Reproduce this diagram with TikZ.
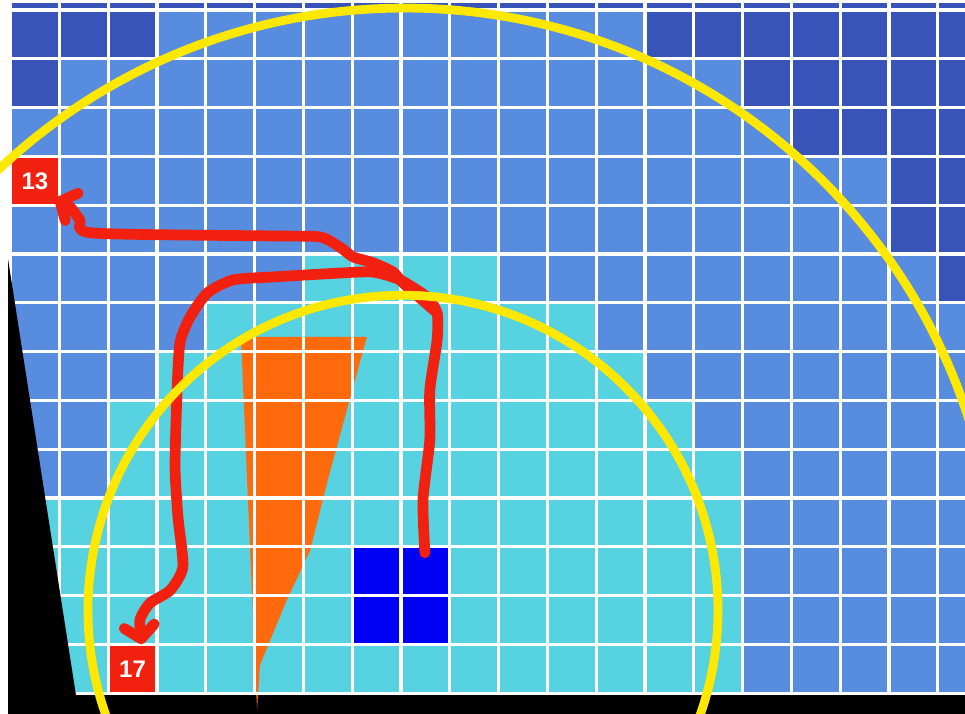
\documentclass[tikz,border=0pt]{standalone}
\usepackage{fontspec}
\usepackage{tikz}
\usetikzlibrary{arrows.meta}
\newfontfamily\numfont{Liberation Sans}
\definecolor{deep}{HTML}{3854B8}
\definecolor{field}{HTML}{588CDE}
\definecolor{reach}{HTML}{56D2E0}
\definecolor{robot}{HTML}{0000F5}
\definecolor{routered}{HTML}{F2200E}
\definecolor{ringyellow}{HTML}{FFE800}
\definecolor{cone}{HTML}{FF6A0C}

\begin{document}
\begin{tikzpicture}[x=1cm,y=-1cm,
  gridline/.style={draw=white,line width=0.065cm},
  numbox/.style={fill=routered,minimum size=1cm,inner sep=0pt,text=white,font=\numfont\bfseries\fontsize{14}{14}\selectfont},
  trail/.style={draw=routered,line width=0.22cm,line cap=round,line join=round,-{Straight Barb[round,length=0.26cm,width=0.62cm]}},
  ring/.style={draw=ringyellow,line width=0.18cm}]
  \useasboundingbox (-0.217,-0.205) rectangle (19.557,14.406);
  \clip (-0.217,-0.205) rectangle (19.557,14.406);
  \fill[white] (-0.217,-0.205) rectangle (19.557,14.406);
  % cells
  \fill[field] (0,-0.15) rectangle (20,14);
  \fill[deep] (0,-0.15) rectangle (20,0);
  \foreach \r/\a/\b in {0/0/2,0/13/19,1/0/0,1/15/19,2/16/19,3/18/19,4/18/19,5/19/19}
    \fill[deep] (\a,\r) rectangle (\b+1,\r+1);
  \foreach \r/\a/\b in {5/6/9,6/4/11,7/3/12,8/2/13,9/2/14,10/0/14,11/0/14,12/0/14,13/0/14}
    \fill[reach] (\a,\r) rectangle (\b+1,\r+1);
  \node[fill=robot,minimum size=2cm,inner sep=0pt] (blk) at (8,12) {};
  \node[numbox] (g13) at (0.5,3.5) {13};
  \node[numbox] (g17) at (2.5,13.5) {17};
  \fill[cone] (4.72,6.70) -- (7.30,6.70) -- (6.50,9.63) -- (6.14,11.07) -- (5.66,12.09)
    -- (5.32,12.91) -- (5.11,13.42) -- (5.05,14.34) -- cycle;
  % grid
  \foreach \x in {0,...,19}
    \draw[gridline] (\x,-0.3) -- (\x,14);
  \foreach \y in {0,...,14}
    \draw[gridline] (0,\y) -- (20,\y);
  \fill[black] (-0.053,5.1) -- (1.34,14.04) -- (20,14.04) -- (20,15) -- (-0.053,15) -- cycle;
  \begin{scope}
    \clip (4,14.04) rectangle (6,15);
    \fill[cone] (4.72,6.70) -- (5.32,12.91) -- (5.11,13.42) -- (5.05,14.34) -- cycle;
  \end{scope}
  % routes
  \coordinate (start) at ([shift={(0.49,0.13)}]blk.north);
  \coordinate (fork) at (8.74,6.21);
  \coordinate (end17) at ([xshift=0.19cm]g17.north);
  \coordinate (end13) at ([shift={(-0.09,-0.13)}]g13.south east);
  \draw[trail] plot[smooth,tension=0.4] coordinates {(start) (8.45,10.04) (8.59,8.81) (8.59,7.79) (8.74,6.76) (fork)
    (8.53,5.88) (7.98,5.53) (7.43,5.37) (6.75,5.39) (5.38,5.47) (4.56,5.53) (4.03,5.80) (3.68,6.29) (3.47,6.82)
    (3.41,7.85) (3.37,9.36) (3.43,10.39) (3.53,11.41) (3.27,11.89) (2.86,12.15) (2.65,12.50) (end17)};
  \draw[trail] plot[smooth,tension=0.4] coordinates {(fork) (8.04,5.59) (7.84,5.37) (7.43,5.18) (7.02,5.06)
    (6.75,4.86) (6.34,4.65) (5.38,4.63) (1.69,4.57) (1.42,4.30) (1.22,4.04) (end13)};
  % ranges
  \draw[ring] (8.08,12.09) circle (12.13);
  \draw[ring] (8.04,12.30) circle (6.455);
\end{tikzpicture}
\end{document}
